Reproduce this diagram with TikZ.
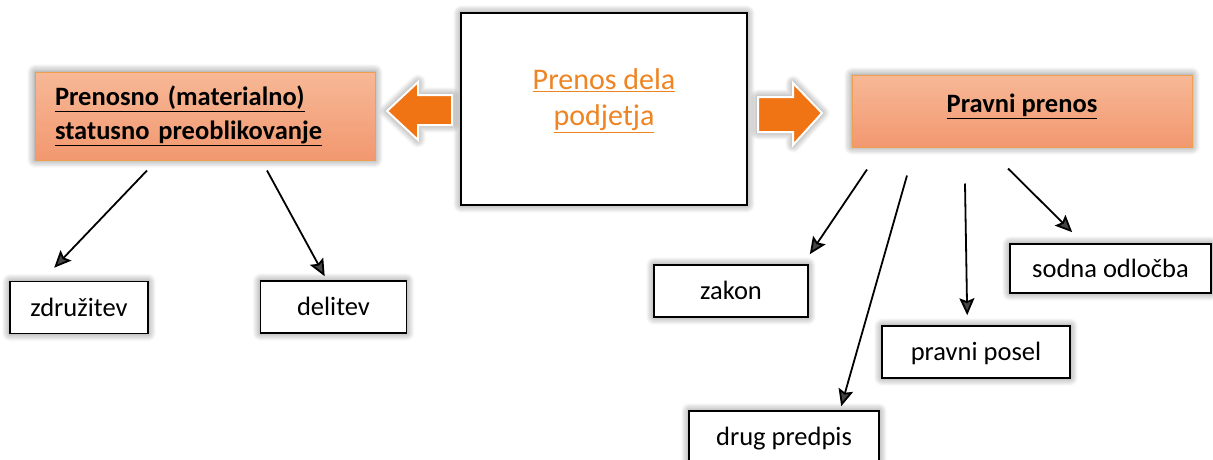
\documentclass[tikz,border=0pt]{standalone}
\usepackage{fontspec}
\setmainfont{Carlito}
\usepackage{tikz}
\usetikzlibrary{calc, arrows.meta, shadows.blur}

\definecolor{arrowOrange}{RGB}{240,116,20}
\definecolor{titleOrange}{RGB}{238,132,34}
\definecolor{headTop}{RGB}{247,184,150}
\definecolor{headBottom}{RGB}{242,152,112}
\definecolor{headBorder}{RGB}{238,160,80}

\tikzset{
  halo/.style={blur shadow={shadow xshift=0pt, shadow yshift=0pt, shadow blur radius=8pt, shadow blur steps=8, shadow opacity=55}},
  headbox/.style={halo, draw=headBorder, line width=1pt, top color=headTop, bottom color=headBottom, font=\fontsize{26.5}{34}\selectfont\bfseries, inner sep=0pt},
  leaf/.style={halo, draw=black, line width=1.6pt, fill=white, font=\fontsize{26.5}{30}\selectfont, minimum height=52pt, text height=20pt, text depth=3pt, inner sep=0pt},
  link/.style={line width=1.8pt, -{Stealth[length=17pt, width=15pt, inset=3pt]}},
  blockarrow/.style={halo, fill=arrowOrange, draw=white, line width=2pt, line join=miter}
}

\begin{document}
\begin{tikzpicture}[x=1pt, y=-1pt]
  \useasboundingbox (0,0) rectangle (1213,459);

  % main box and the two kinds of transfer
  \node[halo, draw=black, line width=1.6pt, fill=white, minimum width=286pt, minimum height=192pt, inner sep=0pt] (prenos) at (604,109) {};
  \node[font=\fontsize{30}{36}\selectfont, text=titleOrange, align=center] (naslov) at (604,101) {\underline{Prenos dela}\\\underline{podjetja}};
  \node[headbox, minimum width=340pt, minimum height=88pt, text width=300pt, align=left] (matbox) at (205,116) {\underline{Prenosno (materialno)}\\\underline{statusno preoblikovanje}};
  \node[headbox, minimum width=340pt, minimum height=72pt, text depth=16pt] (pravbox) at (1022,111) {\underline{Pravni prenos}};

  % block arrows
  \coordinate (ltip) at (387,111);
  \coordinate (rtip) at (822,113);
  \filldraw[blockarrow] (ltip) -- ++(31,-29) -- ++(0,13) -- ++(34,0) -- ++(0,30) -- ++(-34,0) -- ++(0,15) -- cycle;
  \filldraw[blockarrow] (rtip) -- ++(-29,-30) -- ++(0,14) -- ++(-35,0) -- ++(0,35) -- ++(35,0) -- ++(0,13) -- cycle;

  % leaves
  \node[leaf, minimum width=138pt] (zdr) at (79,307.5) {združitev};
  \node[leaf, minimum width=146pt] (del) at (333.5,307) {delitev};
  \node[leaf, minimum width=154pt] (zakon) at (731,291) {zakon};
  \node[leaf, minimum width=190pt] (drug) at (784,437) {drug predpis};
  \node[leaf, minimum width=188pt] (posel) at (976,352) {pravni posel};
  \node[leaf, minimum width=201pt, minimum height=49pt] (sodna) at (1110.5,268.5) {sodna odločba};

  % connectors
  \draw[link] ($(matbox.south)+(-58,10)$) -- ($(zdr.north west)+(45,-13)$);
  \draw[link] ($(matbox.south)+(62,10)$) -- ($(del.north west)+(65,-4)$);
  \draw[link] ($(pravbox.south)+(-155,22)$) -- ($(zakon.north east)+(1,-10)$);
  \draw[link] ($(pravbox.south)+(-115,28)$) -- ($(drug.north west)+(153,-4)$);
  \draw[link] ($(pravbox.south)+(-57,36)$) -- ($(posel.north west)+(86,-10)$);
  \draw[link] ($(pravbox.south)+(-14,21)$) -- ($(sodna.north west)+(63,-11)$);
\end{tikzpicture}
\end{document}
